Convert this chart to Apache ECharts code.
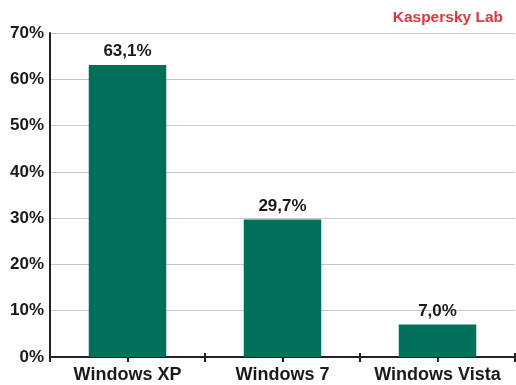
<!DOCTYPE html>
<html><head><meta charset="utf-8">
<script src="https://cdn.jsdelivr.net/npm/echarts@6/dist/echarts.min.js"></script>
<style>html,body{margin:0;padding:0;background:#fff}#c{width:516px;height:385px}</style>
</head><body><div id="c"></div>
<script>
const categories = ['Windows XP', 'Windows 7', 'Windows Vista'];
const values = [63.1, 29.7, 7.0];
const valueLabels = ['63,1%', '29,7%', '7,0%'];
const yTicks = [0, 10, 20, 30, 40, 50, 60, 70];

const chart = echarts.init(document.getElementById('c'));
const font = 'Liberation Sans, Arial, sans-serif';
const baseX = {
  type: 'category', data: categories, position: 'bottom', gridIndex: 0,
  axisLabel: { show: false }, splitLine: { show: false }
};
chart.setOption({
  animation: false,
  title: {
    text: 'Kaspersky Lab', right: 8, top: 5,
    textStyle: { color: '#e8333f', fontSize: 15.5, fontWeight: 'bold', fontFamily: font }
  },
  grid: { left: 50, right: 1, top: 33, bottom: 28 },
  xAxis: [
    Object.assign({}, baseX, {
      axisLine: { lineStyle: { color: '#222', width: 2 } },
      axisTick: { show: true, alignWithLabel: false, interval: 0, length: 5, inside: false, lineStyle: { color: '#222', width: 2 } },
      axisLabel: { show: true, interval: 0, hideOverlap: false, color: '#1a1a1a', fontSize: 18, fontWeight: 'bold', fontFamily: font, margin: 9 }
    }),
    Object.assign({}, baseX, {
      axisLine: { show: false },
      axisTick: { show: true, alignWithLabel: false, interval: 0, length: 4, inside: true, lineStyle: { color: '#222', width: 2 } }
    }),
    Object.assign({}, baseX, {
      axisLine: { show: false },
      axisTick: { show: true, alignWithLabel: true, interval: 0, length: 5, inside: false, lineStyle: { color: '#222', width: 2 } }
    })
  ],
  yAxis: {
    type: 'value', min: 0, max: 70, interval: 10,
    axisLine: { show: true, lineStyle: { color: '#222', width: 2 } },
    axisTick: { show: false },
    splitLine: { lineStyle: { color: '#c8c8c8', width: 1 } },
    axisLabel: {
      color: '#1a1a1a', fontSize: 17, fontWeight: 'bold', fontFamily: font, margin: 6,
      formatter: v => yTicks.includes(v) ? v + '%' : ''
    }
  },
  series: [{
    type: 'bar', data: values, barWidth: '50%', xAxisIndex: 0,
    itemStyle: { color: '#00705b' },
    label: {
      show: true, position: 'top', distance: 5,
      formatter: p => valueLabels[p.dataIndex],
      color: '#1a1a1a', fontSize: 17, fontWeight: 'bold', fontFamily: font
    }
  }]
});
</script></body></html>
